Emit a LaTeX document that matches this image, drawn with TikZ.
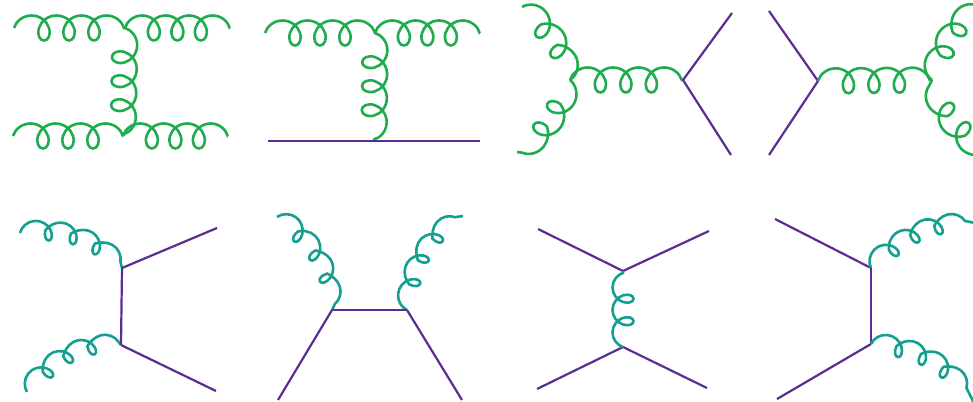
\documentclass[tikz,border=0pt]{standalone}
\usepackage{xcolor}
\usepackage{tikz-feynman}
\usetikzlibrary{decorations.pathmorphing}

\definecolor{gluongreen}{RGB}{30,172,78}
\definecolor{gluonteal}{RGB}{20,160,145}
\definecolor{quarkpurple}{RGB}{90,45,145}

\tikzfeynmanset{
	gluontop/.style={/tikz/decorate, /tikz/color=gluongreen, /tikz/line width=2.6pt,
		/tikz/decoration={coil, amplitude=12.5pt, segment length=#1, aspect=0.9}},
	gluontop/.default=24pt,
	gluonbot/.style={/tikz/decorate, /tikz/color=gluonteal, /tikz/line width=2.6pt,
		/tikz/decoration={coil, amplitude=10.5pt, segment length=#1, aspect=0.85}},
	gluonbot/.default=25.5pt,
	quarkline/.style={/tikz/color=quarkpurple, /tikz/line width=2.2pt},
}

\begin{document}
\begin{tikzpicture}[x=1pt,y=-1pt]
	\useasboundingbox (0,0) rectangle (973,401);
	\begin{feynman}
		% top row
		\vertex at (14,28) (a1);
		\vertex at (125,28) (v1);
		\vertex at (230,28) (b1);
		\vertex at (13,136) (a2);
		\vertex at (123,136) (v2);
		\vertex at (228,136) (b2);
		\vertex at (265,33) (c1);
		\vertex at (375,33) (w1);
		\vertex at (480,33) (d1);
		\vertex at (268,141) (c2);
		\vertex at (374,141) (w2);
		\vertex at (480,141) (d2);
		\vertex at (522,7) (g1);
		\vertex at (517,152) (g2);
		\vertex at (570,80) (s1);
		\vertex at (683,80) (s2);
		\vertex at (732,13) (q1);
		\vertex at (731,155) (q2);
		\vertex at (769,11) (p1);
		\vertex at (769,155) (p2);
		\vertex at (818,81) (t1);
		\vertex at (932,80) (t2);
		\vertex at (980,7) (h1);
		\vertex at (985,152) (h2);
		% bottom row
		\vertex at (20,233) (e1);
		\vertex at (27,392) (e2);
		\vertex at (122,268) (u1);
		\vertex at (121,345) (u2);
		\vertex at (217,228) (f1);
		\vertex at (216,391) (f2);
		\vertex at (277,217) (k1);
		\vertex at (463,216) (k2);
		\vertex at (332,310) (o1);
		\vertex at (407,310) (o2);
		\vertex at (278,400) (l1);
		\vertex at (462,400) (l2);
		\vertex at (538,229) (i1);
		\vertex at (709,231) (i2);
		\vertex at (623,271) (x1);
		\vertex at (623,347) (x2);
		\vertex at (537,389) (i3);
		\vertex at (707,388) (i4);
		\vertex at (775,219) (n1);
		\vertex at (777,399) (n2);
		\vertex at (871,268) (m1);
		\vertex at (871,344) (m2);
		\vertex at (985,225) (r1);
		\vertex at (975,405) (r2);
		\diagram*{
			(a1) --[gluontop=25pt] (v1) --[gluontop=23.5pt] (b1);
			(a2) --[gluontop=25pt] (v2) --[gluontop=23.5pt] (b2);
			(v1) --[gluontop] (v2);
			(c1) --[gluontop=25pt] (w1) --[gluontop=23.5pt] (d1);
			(w1) --[gluontop] (w2);
			(c2) --[quarkline] (w2) --[quarkline] (d2);
			(g1) --[gluontop=26pt, bend left=15] (s1);
			(s1) --[gluontop=26pt, bend left=15] (g2);
			(s1) --[gluontop=25.5pt] (s2);
			(q1) --[quarkline] (s2) --[quarkline] (q2);
			(p1) --[quarkline] (t1) --[quarkline] (p2);
			(t1) --[gluontop=25.5pt] (t2);
			(t2) --[gluontop=26pt, bend left=15] (h1);
			(h2) --[gluontop=26pt, bend left=15] (t2);
			(e1) --[gluonbot, bend left=25] (u1);
			(e2) --[gluonbot, bend left=25] (u2);
			(f1) --[quarkline] (u1) --[quarkline] (u2) --[quarkline] (f2);
			(k1) --[gluonbot, bend left=25] (o1);
			(o2) --[gluonbot, bend left=25] (k2);
			(l1) --[quarkline] (o1) --[quarkline] (o2) --[quarkline] (l2);
			(i1) --[quarkline] (x1) --[quarkline] (i2);
			(i3) --[quarkline] (x2) --[quarkline] (i4);
			(x2) --[gluonbot=22.5pt] (x1);
			(n1) --[quarkline] (m1) --[quarkline] (m2) --[quarkline] (n2);
			(m1) --[gluonbot, bend left=25] (r1);
			(m2) --[gluonbot, bend left=25] (r2);
		};
	\end{feynman}
\end{tikzpicture}
\end{document}
